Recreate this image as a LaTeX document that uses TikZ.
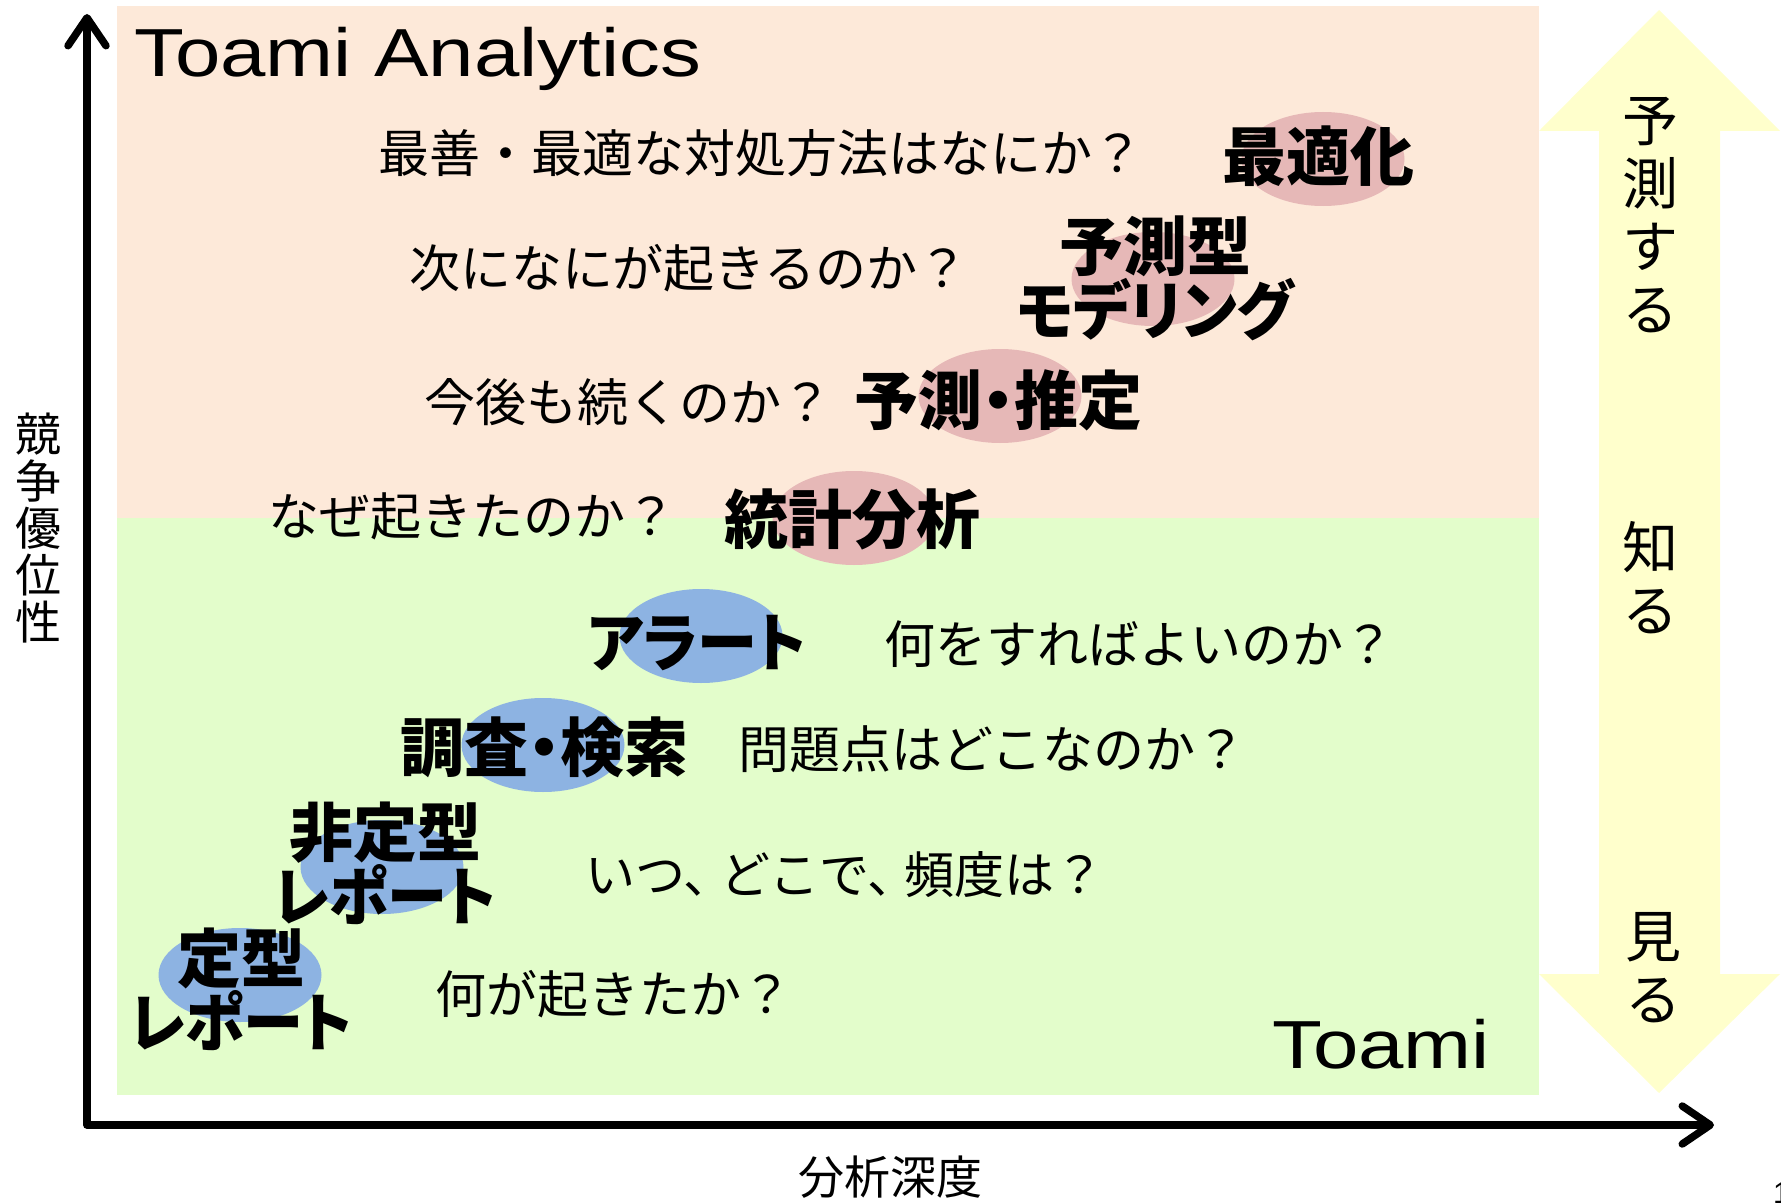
\documentclass[tikz,border=0pt]{standalone}
\usepackage{fontspec}
\setmainfont{Noto Sans CJK JP}
\newfontfamily\methodfont[RawFeature=+palt]{Noto Sans CJK JP}
\newfontfamily\brandfont{Liberation Sans}
\usetikzlibrary{arrows.meta,shapes.geometric}

\definecolor{upperbg}{HTML}{FDE9D9}
\definecolor{lowerbg}{HTML}{E3FDCB}
\definecolor{spotpink}{HTML}{E6B8B7}
\definecolor{spotblue}{HTML}{8DB3E2}
\definecolor{bandyellow}{HTML}{FFFFCC}

\newcommand{\kana}[1]{\scalebox{0.94}[1]{#1}}

\tikzset{
  question/.style={anchor=west, inner sep=0pt, font=\fontsize{51}{60}\selectfont},
  method/.style={align=center, inner sep=0pt, font=\methodfont\bfseries\fontsize{64}{64}\selectfont},
  spot/.style={ellipse, minimum width=163pt, minimum height=94pt, inner sep=0pt},
  vlabel/.style={align=center, inner sep=0pt, font=\fontsize{56}{63}\selectfont},
  axislabel/.style={align=center, inner sep=0pt, font=\fontsize{46}{47}\selectfont},
  brand/.style={anchor=base west, inner sep=0pt, font=\brandfont\fontsize{68}{68}\selectfont},
  axis/.style={line width=7.5pt, line join=round,
    {Straight Barb[length=28pt,width=38pt,line cap=round,line join=round]}-{Straight Barb[length=28pt,width=38pt,line cap=round,line join=round]}}
}

\begin{document}
\begin{tikzpicture}[x=1pt,y=-1pt]
\useasboundingbox (0,0) rectangle (1781,1204);

% backgrounds
\fill[upperbg] (117,6) rectangle (1539,518);
\fill[lowerbg] (117,518) rectangle (1539,1095);

% double block arrow
\fill[bandyellow] (1659,10) -- (1780,131) -- (1720,131) -- (1720,974) -- (1780,974)
  -- (1659,1093) -- (1539,974) -- (1599,974) -- (1599,131) -- (1539,131) -- cycle;

% axes
\coordinate (origin) at (87,1125);
\coordinate (ytop) at (87,14);
\coordinate (xend) at (1714,1125);
\draw[axis] (ytop) -- (origin) -- (xend);

% spots
\node[spot, fill=spotpink] (optspot) at (1323,159) {};
\node[spot, fill=spotpink] (modelspot) at (1153,279) {};
\node[spot, fill=spotpink] (forecastspot) at (1000,396) {};
\node[spot, fill=spotpink] (statspot) at (854,518) {};
\node[spot, fill=spotblue] (alertspot) at (701,636) {};
\node[spot, fill=spotblue] (searchspot) at (543,745) {};
\node[spot, fill=spotblue] (adhocspot) at (382,867) {};
\node[spot, fill=spotblue] (fixedspot) at (240,975) {};

% methods
\node[method] (opt) at (1318,156) {最適化};
\node[method] (model) at (1155,278) {予測型\\\kana{モデリング}};
\node[method] (forecast) at (998,400) {予測・推定};
\node[method] (stat) at (852,519) {統計分析};
\node[method] (alert) at (697,643) {\kana{アラート}};
\node[method] (search) at (544,747) {調査・検索};
\node[method] (adhoc) at (385,863) {非定型\\\kana{レポート}};
\node[method] (fixed) at (241,989) {定型\\\kana{レポート}};

% questions
\node[question] (qopt) at (378,153) {最善・最適な対処方法はなにか？};
\node[question] (qmodel) at (409,268) {次になにが起きるのか？};
\node[question] (qforecast) at (424,402) {今後も続くのか？};
\node[question] (qstat) at (268,516) {なぜ起きたのか？};
\node[question] (qalert) at (884,644) {何をすればよいのか？};
\node[question] (qsearch) at (738,749) {問題点はどこなのか？};
\node[question, font=\fontsize{50}{60}\selectfont] (qadhoc) at (585,875) {いつ、\hspace{-0.25em}どこで、\hspace{-0.25em}頻度は？};
\node[question] (qfixed) at (435,994) {何が起きたか？};

% brands
\node[brand] (analytics) at (134,77) {\scalebox{1.2}[1]{Toami Analytics}};
\node[brand] (toami) at (1272,1068) {\scalebox{1.2}[1]{Toami}};

% band labels
\node[vlabel] (predict) at (1650,215) {予\\測\\す\\る};
\node[vlabel] (know) at (1650,578) {知\\る};
\node[vlabel] (see) at (1653,968) {見\\る};

% axis labels
\node[axislabel] (ylabel) at (38,528) {競\\争\\優\\位\\性};
\node[axislabel] (xlabel) at (890,1177) {分析深度};

\node[anchor=north west, inner sep=0pt, font=\brandfont\fontsize{30}{30}\selectfont] (pageno) at (1773,1183) {1};
\end{tikzpicture}
\end{document}
